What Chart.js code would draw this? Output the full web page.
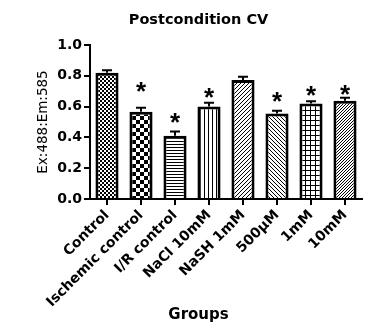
<!DOCTYPE html>
<html>
<head>
<meta charset="utf-8">
<script src="https://cdn.jsdelivr.net/npm/chart.js@4/dist/chart.umd.min.js"></script>
<style>
  html, body { margin: 0; padding: 0; background: #fff; }
  #chart { display: block; }
</style>
</head>
<body>
<canvas id="chart" width="380" height="330"></canvas>
<script>
  // values
  const groups = ['Control', 'Ischemic control', 'I/R control', 'NaCl 10mM', 'NaSH 1mM', '500µM', '1mM', '10mM'];
  const means = [0.82, 0.567, 0.41, 0.60, 0.773, 0.556, 0.62, 0.638];
  const sems = [0.016, 0.026, 0.029, 0.025, 0.021, 0.017, 0.014, 0.02];
  // height (in y units) where the significance star sits, null = no star
  const starLevels = [null, 0.736, 0.54, 0.697, null, 0.675, 0.712, 0.718];
  const yTicks = [0, 0.2, 0.4, 0.6, 0.8, 1.0];

  const FONT = 'DejaVu Sans';

  // small tiled fills, one per group
  const makePattern = (size, draw) => {
    const c = document.createElement('canvas');
    c.width = size;
    c.height = size;
    const g = c.getContext('2d');
    g.fillStyle = '#fff';
    g.fillRect(0, 0, size, size);
    g.fillStyle = '#000';
    draw(g, size);
    return document.getElementById('chart').getContext('2d').createPattern(c, 'repeat');
  };

  const patterns = [
    makePattern(4, (g) => { g.fillRect(0, 0, 2, 2); g.fillRect(2, 2, 2, 2); }),
    makePattern(8, (g) => { g.fillRect(0, 0, 4, 4); g.fillRect(4, 4, 4, 4); }),
    makePattern(3, (g) => { g.fillRect(0, 0, 3, 1); }),
    makePattern(4, (g) => { g.fillRect(0, 0, 1, 4); }),
    makePattern(4, (g, s) => { for (let i = 0; i < s; i++) g.fillRect(i, s - 1 - i, 1, 1); }),
    makePattern(4, (g, s) => { for (let i = 0; i < s; i++) g.fillRect(i, i, 1, 1); }),
    makePattern(5, (g) => { g.fillRect(0, 0, 5, 1); g.fillRect(0, 0, 1, 5); }),
    makePattern(3, (g, s) => { for (let i = 0; i < s; i++) g.fillRect(i, s - 1 - i, 1, 1); }),
  ];

  const errorBars = {
    id: 'errorBars',
    afterDatasetsDraw(chart) {
      const { ctx, scales } = chart;
      const meta = chart.getDatasetMeta(0);
      ctx.save();
      ctx.strokeStyle = '#000';
      ctx.lineWidth = 2;
      meta.data.forEach((bar, i) => {
        const top = scales.y.getPixelForValue(means[i] + sems[i]);
        const base = scales.y.getPixelForValue(means[i]);
        ctx.beginPath();
        ctx.moveTo(bar.x, base);
        ctx.lineTo(bar.x, top);
        ctx.moveTo(bar.x - 5, top);
        ctx.lineTo(bar.x + 5, top);
        ctx.stroke();
      });

      ctx.fillStyle = '#000';
      ctx.font = 'bold 26px Arial';
      ctx.textAlign = 'center';
      ctx.textBaseline = 'alphabetic';
      meta.data.forEach((bar, i) => {
        if (starLevels[i] == null) return;
        const y = scales.y.getPixelForValue(starLevels[i]);
        ctx.fillText('*', bar.x, y + 0.57 * 26);
      });
      ctx.restore();
    },
  };

  new Chart(document.getElementById('chart'), {
    type: 'bar',
    data: {
      labels: groups,
      datasets: [
        {
          data: means,
          backgroundColor: patterns,
          borderColor: '#000',
          borderWidth: 3,
          barPercentage: 0.68,
          categoryPercentage: 1,
        },
      ],
    },
    options: {
      responsive: false,
      animation: false,
      layout: { padding: { left: 35, right: 18, top: 0, bottom: 6 } },
      plugins: {
        legend: { display: false },
        tooltip: { enabled: false },
        title: {
          display: true,
          text: 'Postcondition CV',
          color: '#000',
          font: { family: FONT, size: 14.5, weight: 'bold' },
          padding: { top: 12, bottom: 15.6 },
        },
        // x axis title, centred on the whole figure like the original
        subtitle: {
          display: true,
          position: 'bottom',
          text: 'Groups',
          color: '#000',
          font: { family: FONT, size: 15, weight: 'bold' },
          padding: 0,
        },
      },
      scales: {
        y: {
          min: 0,
          max: 1,
          afterBuildTicks: (scale) => {
            scale.ticks = yTicks.map((v) => ({ value: v }));
          },
          afterFit: (scale) => {
            scale.width = 55;
          },
          ticks: {
            color: '#000',
            font: { family: FONT, size: 14, weight: 'bold' },
            padding: 2,
            callback: (v) => Number(v).toFixed(1),
          },
          grid: { drawOnChartArea: false, drawTicks: true, tickLength: 6, color: '#000', lineWidth: 2 },
          border: { display: true, color: '#000', width: 2 },
          title: {
            display: true,
            text: 'Ex:488:Em:585',
            color: '#000',
            font: { family: FONT, size: 13.5 },
            padding: 0,
          },
        },
        x: {
          afterFit: (scale) => {
            scale.height = 107;
          },
          ticks: {
            color: '#000',
            font: { family: FONT, size: 14, weight: 'bold' },
            minRotation: 45,
            maxRotation: 45,
            autoSkip: false,
            padding: 2,
          },
          grid: { offset: false, drawOnChartArea: false, drawTicks: true, tickLength: 6, color: '#000', lineWidth: 2 },
          border: { display: true, color: '#000', width: 2 },
        },
      },
    },
    plugins: [errorBars],
  });
</script>
</body>
</html>
